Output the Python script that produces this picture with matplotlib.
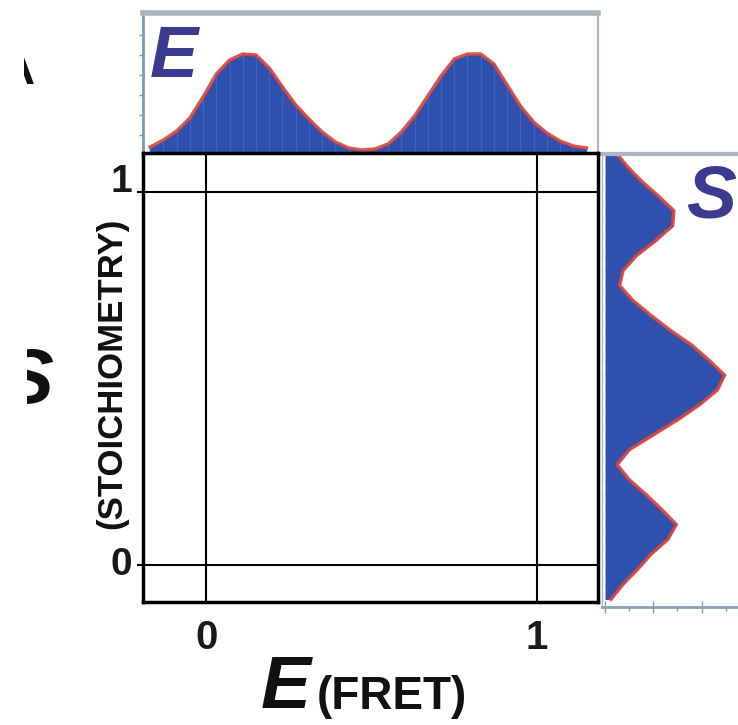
import matplotlib
matplotlib.use("Agg")
import matplotlib.pyplot as plt
from matplotlib.patches import Rectangle

plt.rcParams['font.family'] = ['Liberation Sans', 'DejaVu Sans']

# E (FRET) histogram, top panel
e_centers = [-0.17, -0.13, -0.09, -0.05, -0.01, 0.03, 0.07, 0.11, 0.15, 0.19,
             0.23, 0.27, 0.31, 0.35, 0.39, 0.43, 0.47, 0.51, 0.55, 0.59,
             0.63, 0.67, 0.71, 0.75, 0.79, 0.83, 0.87, 0.91, 0.95, 0.99,
             1.03, 1.07, 1.11, 1.15]
e_counts = [0.06, 0.13, 0.22, 0.35, 0.56, 0.79, 0.93, 0.99, 0.98, 0.85,
            0.66, 0.48, 0.34, 0.21, 0.11, 0.05, 0.03, 0.04, 0.09, 0.21,
            0.37, 0.57, 0.77, 0.94, 0.99, 0.99, 0.89, 0.68, 0.47, 0.31,
            0.20, 0.12, 0.07, 0.05]

# S (stoichiometry) histogram, right panel
s_centers = [-0.09, -0.05, -0.01, 0.03, 0.07, 0.11, 0.15, 0.19, 0.23, 0.27,
             0.31, 0.35, 0.39, 0.43, 0.47, 0.51, 0.55, 0.59, 0.63, 0.67,
             0.71, 0.75, 0.79, 0.83, 0.87, 0.91, 0.95, 0.99, 1.03, 1.07, 1.11]
s_counts = [0.05, 0.15, 0.27, 0.38, 0.52, 0.59, 0.47, 0.34, 0.20, 0.10,
            0.20, 0.40, 0.60, 0.78, 0.93, 0.99, 0.86, 0.72, 0.54, 0.38,
            0.23, 0.12, 0.15, 0.26, 0.42, 0.56, 0.57, 0.44, 0.30, 0.18, 0.08]

ticks = [0, 1]
tick_labels = ["0", "1"]

BLUE = "#2f50ad"
STRIPE = "#3d62c0"
RED = "#d8453f"
NAVY = "#3a3b8e"
FRAME = "#aab6c2"

W, H = 738, 725
def fx(x): return x / W
def fy(y): return 1 - y / H

fig = plt.figure(figsize=(W / 100, H / 100), dpi=100)

# top histogram
axt = fig.add_axes([fx(143), fy(153), 455 / W, 140 / H])
axt.fill_between(e_centers, e_counts, color=BLUE, lw=0)
axt.vlines(e_centers, 0, e_counts, color=STRIPE, lw=1.0)
axt.plot(e_centers, e_counts, color=RED, lw=2.5, alpha=0.9)
axt.set_xlim(-0.192, 1.185)
axt.set_ylim(0, 1.4)
axt.set_xticks([])
axt.set_yticks([0.18, 0.38, 0.58, 0.78, 0.98, 1.18])
axt.set_yticklabels([])
axt.tick_params(axis='y', direction='out', length=3, width=1, color="#7f9aad")
axt.spines['left'].set_color("#7f9aad"); axt.spines['left'].set_linewidth(2)
axt.spines['top'].set_color(FRAME); axt.spines['top'].set_linewidth(4)
axt.spines['right'].set_color(FRAME); axt.spines['right'].set_linewidth(1.5)
axt.spines['bottom'].set_visible(False)

# right histogram
axr = fig.add_axes([fx(602), fy(607), 160 / W, 453 / H])
axr.fill_betweenx(s_centers, s_counts, color=BLUE, lw=0)
axr.hlines(s_centers, 0, s_counts, color=BLUE, lw=0.8)
axr.plot(s_counts, s_centers, color=RED, lw=2.5, alpha=0.9)
axr.set_ylim(-0.111, 1.102)
axr.set_xlim(-0.025, 1.3)
axr.set_yticks([])
axr.set_xticks([0, 0.4, 0.8, 1.2])
axr.set_xticks([0.2, 0.6, 1.0], minor=True)
axr.set_xticklabels([])
axr.tick_params(axis='x', which='major', direction='inout', length=9, width=1, color="#7f9aad")
axr.tick_params(axis='x', which='minor', direction='out', length=3, width=1, color="#7f9aad")
axr.spines['bottom'].set_color("#8aa0b3"); axr.spines['bottom'].set_linewidth(2)
axr.spines['top'].set_color(FRAME); axr.spines['top'].set_linewidth(3)
axr.spines['left'].set_color(FRAME); axr.spines['left'].set_linewidth(1)
axr.spines['right'].set_visible(False)

# main E-S box
ax = fig.add_axes([fx(143), fy(602), 455 / W, 449 / H])
ax.set_zorder(5)
ax.set_facecolor("white")
ax.set_xlim(-0.192, 1.185)
ax.set_ylim(-0.098, 1.104)
for v in ticks:
    ax.axvline(v, color="black", lw=1.5)
    ax.axhline(v, color="black", lw=1.5)
for s in ax.spines.values():
    s.set_linewidth(2.5)
    s.set_color("black")
ax.set_xticks(ticks)
ax.set_xticklabels(tick_labels, fontsize=29, fontweight='bold', color="#1a1a1a")
ax.tick_params(axis='x', length=0, pad=12)
ax.set_yticks(ticks)
ax.set_yticklabels([])
ax.tick_params(axis='y', length=4, width=1.5)
# y labels drawn by hand: the "1" sits a little above its line in the original
for v, lab, dy in zip(ticks, tick_labels, [0, 7]):
    ax.annotate(lab, xy=(0, v), xycoords=ax.get_yaxis_transform(),
                xytext=(-7.5, dy), textcoords='offset points',
                ha='right', va='center', fontsize=28, fontweight='bold',
                color="#1a1a1a", annotation_clip=False)

# labels
fig.text(fx(150), fy(77), "E", fontsize=52, fontweight='bold', style='italic',
         color=NAVY, ha='left', va='baseline')
fig.text(fx(686), fy(217), "S", fontsize=54, fontweight='bold', style='italic',
         color=NAVY, ha='left', va='baseline')
fig.text(fx(261), fy(708), "E", fontsize=54, fontweight='bold', style='italic',
         color="#111111", ha='left', va='baseline')
fig.text(fx(317), fy(709), "(FRET)", fontsize=33, fontweight='bold',
         color="#111111", ha='left', va='baseline')
fig.text(fx(112), fy(373), "(STOICHIOMETRY)", fontsize=25, fontweight='bold',
         color="#111111", rotation=90, ha='center', va='center')
fig.text(fx(1), fy(403), "S", fontsize=56, fontweight='bold', style='italic',
         color="#111111", ha='left', va='baseline')
fig.text(fx(1), fy(84), "A", fontsize=34, fontweight='bold',
         color="#111111", ha='left', va='baseline')

# scan edge: the left strip of the original is blank, only the right
# parts of the panel letter and the S show
fig.add_artist(Rectangle((0, fy(120)), fx(24), 1 - fy(120), transform=fig.transFigure,
                         facecolor="white", edgecolor="none", zorder=20))
fig.add_artist(Rectangle((0, fy(420)), fx(27), fy(330) - fy(420), transform=fig.transFigure,
                         facecolor="white", edgecolor="none", zorder=20))

fig.savefig("out.png", dpi=100)
